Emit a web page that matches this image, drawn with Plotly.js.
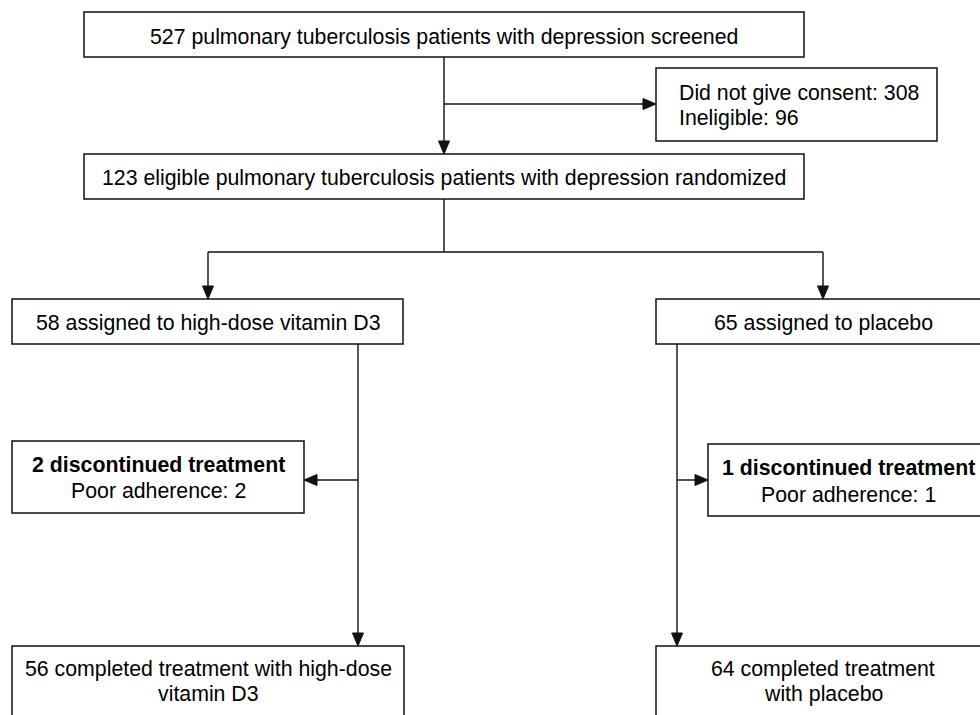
<!DOCTYPE html>
<html>
<head>
<meta charset="utf-8">
<script src="https://cdn.plot.ly/plotly-3.0.1.min.js"></script>
<style>html,body{margin:0;padding:0;background:#fff;}#chart{width:980px;height:715px;}</style>
</head>
<body>
<div id="chart"></div>
<script>
// ---- Data (text content of the flow diagram) ----
const screenedText = ["527 pulmonary tuberculosis patients with depression screened"];
const excludedLines = ["Did not give consent: 308", "Ineligible: 96"];
const randomizedText = ["123 eligible pulmonary tuberculosis patients with depression randomized"];
const armLabels = ["58 assigned to high-dose vitamin D3", "65 assigned to placebo"];
const discTitles = ["2 discontinued treatment", "1 discontinued treatment"];
const discReasons = ["Poor adherence: 2", "Poor adherence: 1"];
const completedLeft = ["56 completed treatment with high-dose", "vitamin D3"];
const completedRight = ["64 completed treatment", "with placebo"];

// ---- Layout helpers ----
const INK = '#111111';
const FS = 21.3;
const FONT = 'Liberation Sans, Arial, sans-serif';
const shapes = [];
const annotations = [];

function box(x0, y0, x1, y1) {
  shapes.push({type: 'rect', xref: 'x', yref: 'y', x0: x0, x1: x1, y0: y0, y1: y1,
    line: {color: INK, width: 1.5}, fillcolor: 'rgba(0,0,0,0)'});
}
function seg(x0, y0, x1, y1) {
  shapes.push({type: 'line', xref: 'x', yref: 'y', x0: x0, y0: y0, x1: x1, y1: y1,
    line: {color: INK, width: 1.4}});
}
function arrow(x0, y0, x1, y1) {
  const L = 13, W = 5.5;
  const dx = x1 - x0, dy = y1 - y0, d = Math.hypot(dx, dy);
  const ux = dx / d, uy = dy / d;
  const bx = x1 - ux * L, by = y1 - uy * L;
  seg(x0, y0, bx, by);
  const px = -uy * W, py = ux * W;
  shapes.push({type: 'path', xref: 'x', yref: 'y',
    path: 'M' + x1 + ',' + y1 + ' L' + (bx + px) + ',' + (by + py) + ' L' + (bx - px) + ',' + (by - py) + ' Z',
    fillcolor: INK, line: {color: INK, width: 1}});
}
function text(str, x, baseline, anchor, bold) {
  annotations.push({xref: 'x', yref: 'y', x: x, y: baseline - 7, text: bold ? '<b>' + str + '</b>' : str,
    showarrow: false, xanchor: anchor || 'center', yanchor: 'middle',
    font: {family: FONT, size: FS, color: '#000'}});
}

// Box 1: screened
box(84, 12, 804, 57);
text(screenedText[0], 444, 43.5);
// exclusion
arrow(444, 57, 444, 154);
arrow(444, 104, 656, 104);
box(656, 68, 937, 141);
text(excludedLines[0], 677, 100, 'left');
text(excludedLines[1], 677, 125, 'left');
// Box 2: randomized
box(84, 154, 804, 199);
text(randomizedText[0], 444, 184.5);
// split
seg(444, 199, 444, 252);
seg(208, 252, 823, 252);
arrow(208, 252, 208, 299);
arrow(823, 252, 823, 299);
// arms
box(12, 299, 403, 344);
text(armLabels[0], 208, 329.5);
box(656, 299, 990, 344);
text(armLabels[1], 823, 329.5);
// left arm flow
arrow(358, 344, 358, 646);
arrow(358, 480, 304, 480);
box(12, 441, 304, 513);
text(discTitles[0], 158, 472, 'center', true);
text(discReasons[0], 158, 498);
// right arm flow
arrow(677, 344, 677, 646);
arrow(677, 480, 708, 480);
box(708, 444, 988, 516);
text(discTitles[1], 848, 475, 'center', true);
text(discReasons[1], 848, 502);
// completed
box(12, 646, 404, 760);
text(completedLeft[0], 208, 676);
text(completedLeft[1], 208, 701);
box(656, 646, 990, 760);
text(completedRight[0], 823, 676);
text(completedRight[1], 823, 701);

const layout = {
  width: 980, height: 715,
  margin: {l: 0, r: 0, t: 0, b: 0, pad: 0},
  paper_bgcolor: '#fff', plot_bgcolor: '#fff',
  showlegend: false,
  xaxis: {range: [0, 980], visible: false, fixedrange: true},
  yaxis: {range: [715, 0], visible: false, fixedrange: true},
  shapes: shapes,
  annotations: annotations
};
Plotly.newPlot('chart', [], layout, {displayModeBar: false, staticPlot: true});
</script>
</body>
</html>
